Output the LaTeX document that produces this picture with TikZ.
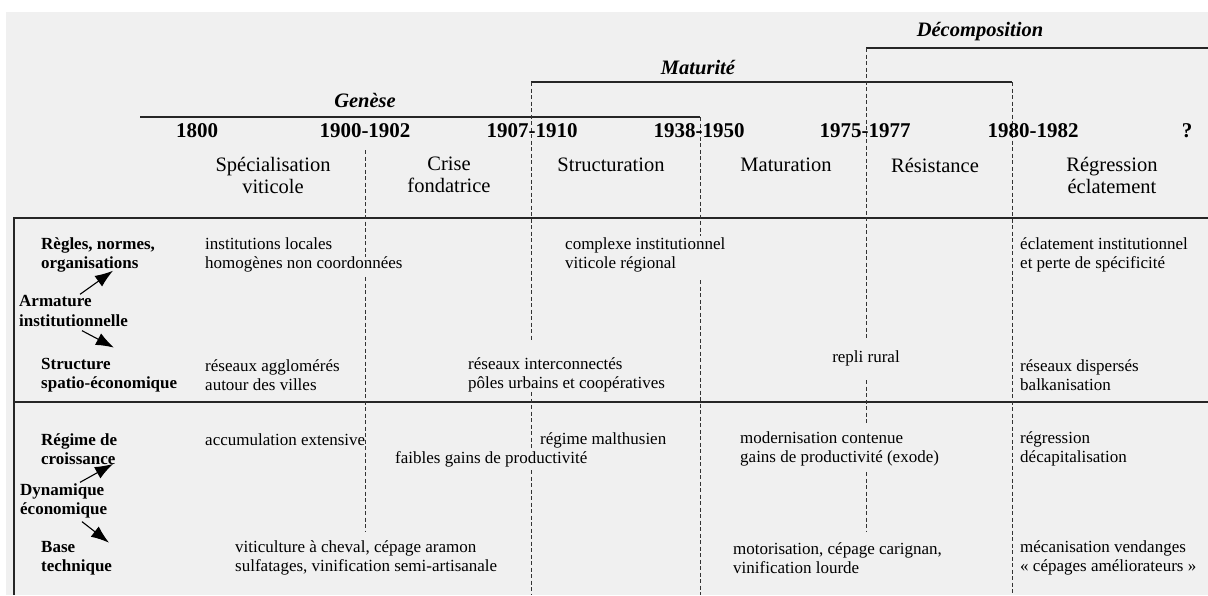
\documentclass[tikz,border=0pt]{standalone}
\usepackage{fontspec}
\setmainfont{Liberation Serif}
\usetikzlibrary{arrows.meta}

\begin{document}
\begin{tikzpicture}[x=1pt,y=-1pt,
	cell/.style={inner sep=0pt,anchor=west,align=left,font=\fontsize{17}{19.5}\selectfont},
	rowlabel/.style={inner sep=0pt,anchor=west,align=left,font=\fontsize{17}{19.5}\selectfont\bfseries},
	phase/.style={inner sep=0pt,align=center,font=\fontsize{20.5}{22}\selectfont},
	year/.style={inner sep=0pt,font=\fontsize{21}{24}\selectfont\bfseries},
	period/.style={inner sep=0pt,font=\fontsize{20.5}{24}\selectfont\bfseries\itshape},
	cut/.style={line width=0.8pt,black!80,dash pattern=on 4pt off 2.5pt},
	rule/.style={line width=1.1pt,black!85},
	fleche/.style={line width=1.1pt,-{Latex[length=18pt,width=13pt]}}]

	\useasboundingbox (0,0) rectangle (1208,595);
	\fill[white] (0,0) rectangle (1208,595);
	\fill[black!6] (6,12) rectangle (1208,595);

	% brackets and table frame
	\draw[rule] (140,117) -- (700,117);
	\draw[rule] (531,82) -- (1012,82);
	\draw[rule] (866,48) -- (1208,48);
	\draw[rule] (1208,218) -- (14,218) -- (14,595);
	\draw[rule] (14,402) -- (1208,402);

	% dashed limits
	\draw[cut] (365,150) -- (365,257) (365,277) -- (365,532);
	\draw[cut] (531,82) -- (531,340) (531,392) -- (531,448) (531,470) -- (531,595);
	\draw[cut] (700,117) -- (700,236) (700,280) -- (700,595);
	\draw[cut] (866,48) -- (866,338) (866,380) -- (866,425) (866,472) -- (866,532);
	\draw[cut] (1012,82) -- (1012,595);

	\node[period] (genese) at (365,100) {Genèse};
	\node[period] (maturite) at (698,67) {Maturité};
	\node[period] (decomp) at (980,32) {Décomposition};

	\node[year] (y1800) at (197,131) {1800};
	\node[year] (y1900) at (365,131) {1900-1902};
	\node[year] (y1907) at (532,131) {1907-1910};
	\node[year] (y1938) at (699,131) {1938-1950};
	\node[year] (y1975) at (865,131) {1975-1977};
	\node[year] (y1980) at (1033,131) {1980-1982};
	\node[year] (ynext) at (1187,131) {?};

	\node[phase] (specia) at (273,175) {Spécialisation\\viticole};
	\node[phase] (crise) at (449,175) {Crise\\fondatrice};
	\node[phase] (struct) at (611,165) {Structuration};
	\node[phase] (matur) at (786,165) {Maturation};
	\node[phase] (resist) at (935,165) {Résistance};
	\node[phase] (regres) at (1112,175) {Régression\\éclatement};

	% armature institutionnelle
	\node[rowlabel] (regles) at (41,255) {Règles, normes,\\organisations};
	\node[rowlabel] (armature) at (19,311) {Armature\\institutionnelle};
	\node[rowlabel] (spatial) at (41,375) {Structure\\spatio-économique};

	\draw[fleche] ([xshift=61pt,yshift=1pt]armature.north west) -- ([xshift=72pt,yshift=2pt]regles.south west);
	\draw[fleche] ([xshift=63pt,yshift=-4pt]armature.south west) -- ([xshift=73pt,yshift=10pt]spatial.north west);

	\node[cell] (inst1) at (205,255) {institutions locales\\homogènes non coordonnées};
	\node[cell] (inst2) at (565,255) {complexe institutionnel\\viticole régional};
	\node[cell] (inst3) at (1020,255) {éclatement institutionnel\\et perte de spécificité};
	\node[cell] (res1) at (205,375) {réseaux agglomérés\\autour des villes};
	\node[cell] (res2) at (468,375) {réseaux interconnectés\\pôles urbains et coopératives};
	\node[cell,anchor=center] (res3) at (866,358) {repli rural};
	\node[cell] (res4) at (1020,375) {réseaux dispersés\\balkanisation};

	% dynamique economique
	\node[rowlabel] (regime) at (41,449) {Régime de\\croissance};
	\node[rowlabel] (dynam) at (20,501) {Dynamique\\économique};
	\node[rowlabel] (base) at (41,558) {Base\\technique};

	\draw[fleche] ([xshift=60pt,yshift=1pt]dynam.north west) -- ([xshift=72pt,yshift=1pt]regime.south west);
	\draw[fleche] ([xshift=62pt,yshift=-3pt]dynam.south west) -- ([xshift=68pt,yshift=-2pt]base.north west);

	\node[cell] (crois1) at (205,440) {accumulation extensive};
	\node[cell] (crois2) at (395,459) {faibles gains de productivité};
	\node[cell] (crois3) at (540,440) {régime malthusien};
	\node[cell] (crois4) at (740,449) {modernisation contenue\\gains de productivité (exode)};
	\node[cell] (crois5) at (1020,449) {régression\\décapitalisation};
	\node[cell] (tech1) at (235,558) {viticulture à cheval, cépage aramon\\sulfatages, vinification semi-artisanale};
	\node[cell] (tech2) at (733,558) {motorisation, cépage carignan,\\vinification lourde};
	\node[cell] (tech3) at (1020,558) {mécanisation vendanges\\« cépages améliorateurs »};

\end{tikzpicture}
\end{document}
